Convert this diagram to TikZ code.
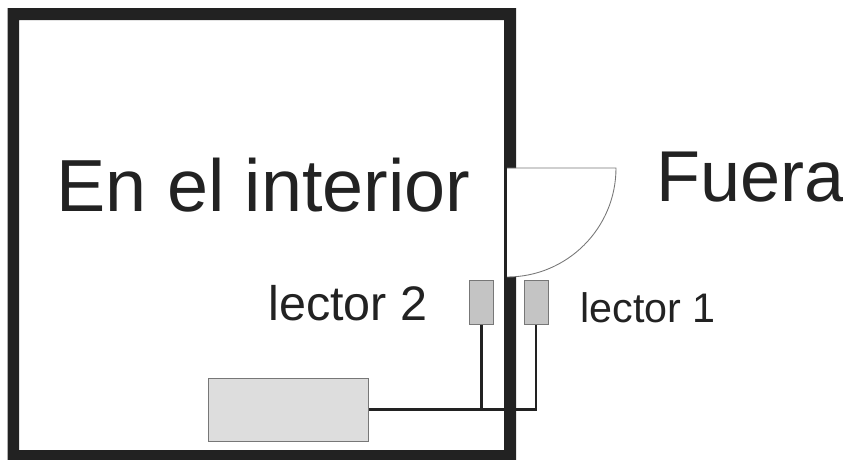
\documentclass[tikz,border=0pt]{standalone}
\usepackage{fontspec}
\setmainfont{Liberation Sans}
\definecolor{wallcolor}{HTML}{222222}
\definecolor{lectorgray}{HTML}{C4C4C4}
\definecolor{unitgray}{HTML}{DDDDDD}
\definecolor{edgegray}{HTML}{777777}
\tikzset{
  wall/.style={fill=wallcolor,draw=none},
  lector/.style={draw=edgegray,fill=lectorgray,line width=.4pt,minimum width=0.48cm,minimum height=0.88cm,inner sep=0pt},
  wire/.style={wallcolor,line width=1.5pt},
  label/.style={text=wallcolor,anchor=base west,inner sep=0pt}
}
\begin{document}
\begin{tikzpicture}[x=0.02cm,y=-0.02cm]
        \useasboundingbox (0,0) rectangle (843,460);

        % walls
        \fill [wall] (7.5,8) -- (516,8) -- (516,168) -- (504,168) -- (504,20) -- (19,20)
            -- (19,450) -- (504,450) -- (504,277) -- (516,277) -- (516,460) -- (7.5,460) -- cycle;
        \fill [wall] (504,168) rectangle (507,277);

        % door
        \draw [edgegray,line width=.5pt] (507,168) -- (616,168) arc [start angle=0,end angle=90,radius=109];

        % lectors and unit
        \node [lector] (lectordos) at (481.5,302.5) {};
        \node [lector] (lectoruno) at (536,302.5) {};
        \node [draw=edgegray,fill=unitgray,line width=.4pt,minimum width=3.21cm,minimum height=1.26cm,inner sep=0pt] (unit) at (288.5,409.5) {};

        % wires
        \draw [wire] (lectordos.south) -- (lectordos.south |- unit.east);
        \draw [wire] (unit.east) -- (504,409.5);
        \draw [wire] (516,409.5) -| (lectoruno.south);

        % texts
        \node [label,font=\fontsize{42}{50}\selectfont] (inside) at (56,211) {En el interior};
        \node [label,font=\fontsize{41}{50}\selectfont] (outside) at (656.5,201.5) {Fuera};
        \node [label,font=\fontsize{27.6}{33}\selectfont] (lectordostext) at (268,320) {lector 2};
        \node [label,font=\fontsize{23.5}{29}\selectfont] (lectorunotext) at (580,322) {lector 1};
\end{tikzpicture}
\end{document}
